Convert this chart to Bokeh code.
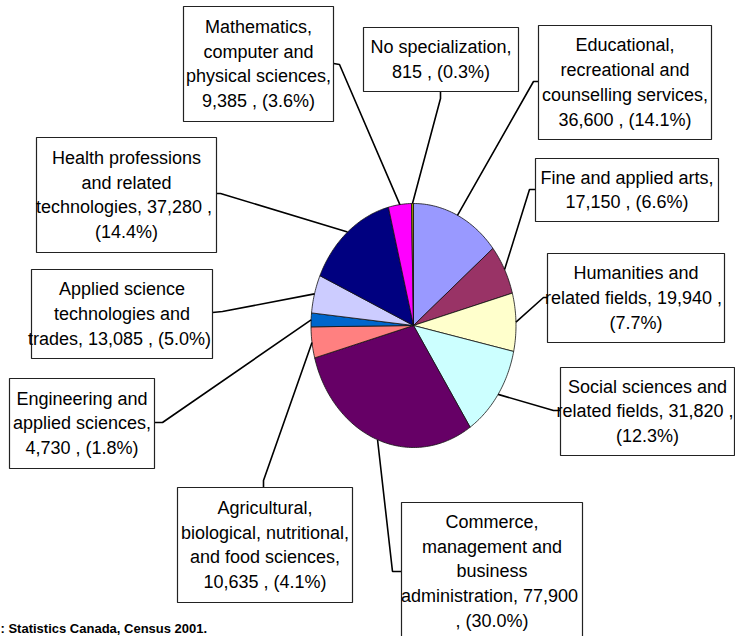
import numpy as np
from bokeh.plotting import figure
from bokeh.models import Range1d, ColumnDataSource
from bokeh.core.properties import value
from bokeh.embed import file_html
from bokeh.resources import INLINE

# ---------------- data ----------------
categories = [
    "Educational, recreational and counselling services",
    "Fine and applied arts",
    "Humanities and related fields",
    "Social sciences and related fields",
    "Commerce, management and business administration",
    "Agricultural, biological, nutritional, and food sciences",
    "Engineering and applied sciences",
    "Applied science technologies and trades",
    "Health professions and related technologies",
    "Mathematics, computer and physical sciences",
    "No specialization",
]
counts = [36600, 17150, 19940, 31820, 77900, 10635, 4730, 13085, 37280, 9385, 815]
label_templates = [
    "Educational,\nrecreational and\ncounselling services,\n{v} , ({p})",
    "Fine and applied arts,\n{v} , ({p})",
    "Humanities and\nrelated fields,  {v} ,\n({p})",
    "Social sciences and\nrelated fields,  {v} ,\n({p})",
    "Commerce,\nmanagement and\nbusiness\nadministration,  {v}\n, ({p})",
    "Agricultural,\nbiological, nutritional,\nand food sciences,\n{v} , ({p})",
    "Engineering and\napplied sciences,\n{v} , ({p})",
    "Applied science\ntechnologies and\ntrades,  {v} , ({p})",
    "Health professions\nand related\ntechnologies,  {v} ,\n({p})",
    "Mathematics,\ncomputer and\nphysical sciences,\n{v} , ({p})",
    "No specialization,\n{v} , ({p})",
]
source_note = ": Statistics Canada, Census 2001."

# ---------------- styles / layout ----------------
colors = ["#9999FF", "#993366", "#FFFFCC", "#CCFFFF", "#660066", "#FF8080",
          "#0066CC", "#CCCCFF", "#000080", "#FF00FF", "#A09A00"]
# pie geometry (screen-like coordinates)
CX, CY, RX, RY = 413.0, 325.0, 102.5, 122.0
# label boxes: left, top, right, bottom
box_left = [538, 535, 547, 560, 401, 177, 9, 31, 36, 183, 363]
box_top = [25, 158, 253, 367, 502, 487, 378, 269, 137, 6, 27]
box_right = [711, 718, 724, 734, 582, 352, 154, 212, 216, 333, 518]
box_bottom = [139, 221, 342, 455, 640, 602, 468, 358, 252, 121, 91]
# leader line: attach point on box and elbow point
attach_x = [538, 535, 547, 560, 401, 263, 154, 212, 216, 333, 440]
attach_y = [81, 189, 297, 410, 571, 487, 422, 312, 193, 63, 91]
elbow_x = [533, 529, 543, 553, 392, 263, 162, 222, 220, 339, 440]
elbow_y = [81, 189, 297, 410, 571, 480, 422, 311, 193, 64, 98]

W, H = 735, 636
p = figure(width=W, height=H, output_backend="svg", toolbar_location=None,
           x_range=Range1d(0, W), y_range=Range1d(H, 0),
           min_border=0, outline_line_color=None)
p.axis.visible = False
p.xgrid.visible = False
p.ygrid.visible = False
p.background_fill_color = "white"

total = float(sum(counts))
cum = np.concatenate([[0.0], np.cumsum(counts)]) / total * 360.0

xs, ys = [], []
end_x, end_y = [], []
for i in range(len(counts)):
    a0, a1 = np.radians(cum[i]), np.radians(cum[i + 1])
    n = max(4, int(np.degrees(a1 - a0)))
    t = np.linspace(a0, a1, n)
    xs.append([CX] + list(CX + RX * np.sin(t)) + [CX])
    ys.append([CY] + list(CY - RY * np.cos(t)) + [CY])
    am = 0.5 * (a0 + a1)
    end_x.append(CX + RX * np.sin(am))
    end_y.append(CY - RY * np.cos(am))

p.patches(xs, ys, fill_color=colors, line_color="#111111", line_width=0.8)

# leader lines
lx = [[attach_x[i], elbow_x[i], end_x[i]] for i in range(len(counts))]
ly = [[attach_y[i], elbow_y[i], end_y[i]] for i in range(len(counts))]
p.multi_line(lx, ly, line_color="black", line_width=1.6)

# label boxes
p.quad(left=box_left, right=box_right, top=box_top, bottom=box_bottom,
       fill_color="white", line_color="#222222", line_width=1.2)

labels = []
for i, c in enumerate(counts):
    pct = "{:.1f}%".format(c / total * 100)
    labels.append(label_templates[i].format(v="{:,}".format(c), p=pct))
tx = [(l + r) / 2 for l, r in zip(box_left, box_right)]
ty = [(t + b) / 2 for t, b in zip(box_top, box_bottom)]
src = ColumnDataSource(dict(x=tx, y=ty, text=labels))
p.text(x="x", y="y", text="text", source=src, text_align="center",
       text_baseline="middle", text_font=value("Liberation Sans"),
       text_font_size="18px", text_line_height=1.24, text_color="black")

p.text(x=[0], y=[635], text=[source_note], text_align="left",
       text_baseline="bottom", text_font=value("Liberation Sans"),
       text_font_style="bold", text_font_size="13px", text_color="black")

open("out.html", "w").write(file_html(p, INLINE))
